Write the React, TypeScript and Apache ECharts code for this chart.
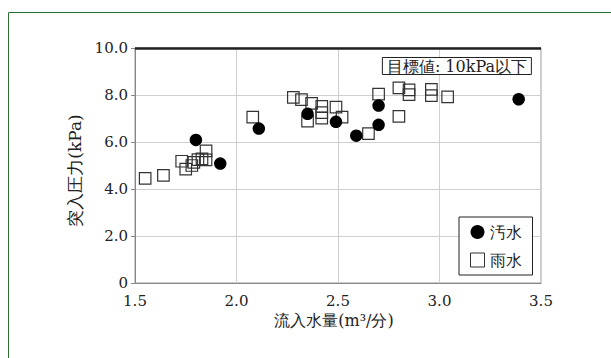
import React, { useEffect, useRef } from "react";
import * as echarts from "echarts";

// 汚水 (sewage) — filled circles
const sewageX = [1.80, 1.92, 2.11, 2.35, 2.49, 2.59, 2.70, 2.70, 3.39];
const sewageY = [6.09, 5.08, 6.57, 7.20, 6.86, 6.27, 7.55, 6.73, 7.82];

// 雨水 (rain water) — hollow squares
const rainX = [1.55, 1.64, 1.73, 1.75, 1.78, 1.79, 1.81, 1.83, 1.85, 1.85,
  2.08, 2.28, 2.32, 2.35, 2.37, 2.42, 2.42, 2.42, 2.49, 2.52,
  2.65, 2.70, 2.80, 2.80, 2.85, 2.85, 2.96, 2.96, 3.04];
const rainY = [4.45, 4.58, 5.18, 4.85, 5.00, 5.13, 5.25, 5.28, 5.62, 5.24,
  7.06, 7.90, 7.80, 6.89, 7.64, 7.52, 7.25, 7.02, 7.48, 7.06,
  6.36, 8.04, 8.30, 7.09, 8.22, 8.02, 8.24, 7.97, 7.92];

const seriesNames = ["汚水", "雨水"];
const xTitle = "流入水量(m³/分)";
const yTitle = "突入圧力(kPa)";
const targetText = "目標値: 10kPa以下";
const targetValue = 10;

const FONT = "DejaVu Serif";

export default function App() {
  const ref = useRef<HTMLDivElement>(null);
  useEffect(() => {
    document.body.style.margin = "0";
    const chart = echarts.init(ref.current!, null, { renderer: "svg" });
    const sewage = sewageX.map((x, i) => [x, sewageY[i]]);
    const rain = rainX.map((x, i) => [x, rainY[i]]);
    chart.setOption({
      animation: false,
      backgroundColor: "#fff",
      textStyle: { fontFamily: FONT },
      grid: {
        left: 135, right: 70, top: 48, bottom: 75,
        show: true, borderColor: "#999", borderWidth: 1,
      },
      title: {
        text: targetText,
        right: 79, top: 57,
        padding: [1, 5],
        borderColor: "#222", borderWidth: 1,
        backgroundColor: "#fff",
        textStyle: { fontFamily: FONT, fontSize: 16, fontWeight: "normal", color: "#222" },
      },
      legend: {
        orient: "vertical",
        left: 459, top: 217,
        padding: [7, 11, 7, 11],
        itemGap: 12,
        itemWidth: 14, itemHeight: 14,
        borderColor: "#222", borderWidth: 1,
        backgroundColor: "#fff",
        textStyle: { fontFamily: FONT, fontSize: 16, color: "#222" },
        data: [
          { name: seriesNames[0], icon: "circle", itemStyle: { color: "#000", opacity: 1 } },
          { name: seriesNames[1], icon: "rect", itemStyle: { color: "#fff", borderColor: "#333", borderWidth: 1 } },
        ],
      },
      xAxis: {
        type: "value",
        min: 1.5, max: 3.5, interval: 0.5,
        name: xTitle,
        nameLocation: "middle",
        nameGap: 29,
        nameTextStyle: { fontFamily: FONT, fontSize: 16, color: "#222", padding: [0, 8, 0, 0] },
        axisLine: { show: true, lineStyle: { color: "#888", width: 1 } },
        axisTick: { show: false },
        axisLabel: {
          margin: 10, fontFamily: FONT, fontSize: 15, color: "#222",
          formatter: (v: number) => v.toFixed(1),
        },
        splitLine: { show: true, lineStyle: { color: "#d0d0d0", width: 1 } },
      },
      yAxis: {
        type: "value",
        min: 0, max: 10, interval: 2,
        name: yTitle,
        nameLocation: "middle",
        nameGap: 50,
        nameTextStyle: { fontFamily: FONT, fontSize: 17, color: "#222", padding: [0, 0, 0, -10] },
        axisLine: { show: true, lineStyle: { color: "#888", width: 1 } },
        axisTick: { show: true, length: 4, lineStyle: { color: "#888" } },
        axisLabel: {
          margin: 7, fontFamily: FONT, fontSize: 15, color: "#222",
          formatter: (v: number) => (v === 0 ? "0" : v.toFixed(1)),
        },
        splitLine: { show: true, lineStyle: { color: "#d0d0d0", width: 1 } },
      },
      series: [
        {
          name: seriesNames[1],
          type: "scatter",
          symbol: "rect",
          symbolSize: 11.5,
          itemStyle: { color: "rgba(255,255,255,0)", borderColor: "#333", borderWidth: 1.2, opacity: 1 },
          data: rain,
          markLine: {
            silent: true,
            symbol: ["none", "none"],
            label: { show: false },
            lineStyle: { color: "#222", width: 2.5, type: "solid" },
            data: [{ yAxis: targetValue }],
          },
        },
        {
          name: seriesNames[0],
          type: "scatter",
          symbol: "circle",
          symbolSize: 12.5,
          itemStyle: { color: "#000", opacity: 1 },
          data: sewage,
        },
      ],
      graphic: [
        {
          type: "line",
          shape: { x1: 8.5, y1: 12.5, x2: 611, y2: 12.5 },
          style: { stroke: "#2f6f35", lineWidth: 1 },
          silent: true,
        },
        {
          type: "line",
          shape: { x1: 8.5, y1: 12.5, x2: 8.5, y2: 358 },
          style: { stroke: "#2f6f35", lineWidth: 1 },
          silent: true,
        },
      ],
    });
    return () => chart.dispose();
  }, []);
  return <div ref={ref} style={{ width: 611, height: 358 }} />;
}
